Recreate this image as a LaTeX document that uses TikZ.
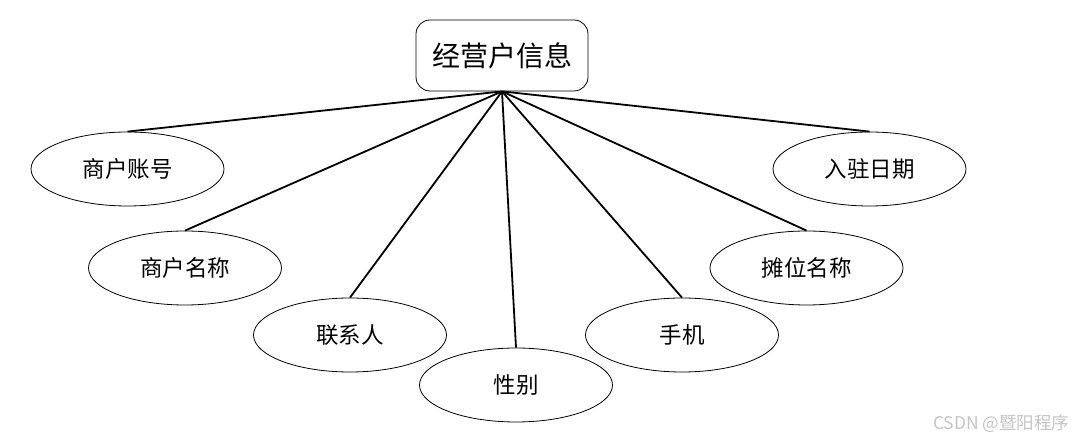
\documentclass[tikz,border=0pt]{standalone}
\usepackage{fontspec}
\usepackage{tikz}
\usepackage{xcolor}
\usetikzlibrary{shapes.geometric, positioning}
\newfontfamily\cjk{Noto Sans CJK SC}
\definecolor{Attr_Line}{HTML}{000000}
\definecolor{Mark_Gray}{HTML}{C4C4C4}

\tikzset{
    entitybox/.style={draw, rounded corners=14pt, line width=0.8pt, minimum width=172pt, minimum height=71pt, inner sep=0pt, font=\cjk\fontsize{28}{32}\selectfont},
    attrbox/.style={draw, ellipse, line width=0.8pt, minimum width=193pt, minimum height=74pt, inner sep=0pt, font=\cjk\fontsize{22.5}{26}\selectfont},
    link/.style={line width=1.8pt, Attr_Line}
}

\begin{document}
\begin{tikzpicture}[x=1pt, y=-1pt]
    \useasboundingbox (0,0) rectangle (1079,443);

    % Entity
    \node[entitybox] (info) at (502,55.5) {经营户信息};

    % Attributes, left side
    \node[attrbox] (acct) at (127.5,169) {商户账号};
    \node[attrbox] (mname) at (185,268) {商户名称};
    \node[attrbox] (contact) at (350,335) {联系人};
    % Attributes, middle and right side
    \node[attrbox] (sex) at (516,385) {性别};
    \node[attrbox] (phone) at (682,335) {手机};
    \node[attrbox] (stall) at (806.5,268) {摊位名称};
    \node[attrbox] (date) at (869.5,169) {入驻日期};

    % Links
    \foreach \a in {acct, mname, contact, sex, phone, stall, date}
        \draw[link] (info.south) -- (\a.north);

    % Watermark
    \node[text=Mark_Gray, font=\cjk\fontsize{17.5}{20}\selectfont, anchor=east] (mark) at (1073,424) {CSDN @暨阳程序};
\end{tikzpicture}
\end{document}
